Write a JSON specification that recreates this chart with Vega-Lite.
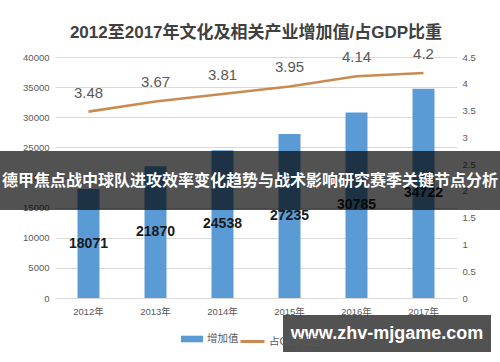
{
  "$schema": "https://vega.github.io/schema/vega-lite/v6.json",
  "width": 402,
  "height": 241,
  "autosize": {"type": "none"},
  "padding": {"left": 55, "top": 57, "right": 43, "bottom": 64},
  "background": "white",
  "config": {
    "font": "Liberation Sans, Noto Sans CJK SC",
    "view": {"stroke": null},
    "axis": {"labelColor": "#595959", "labelFont": "Liberation Sans, Noto Sans CJK SC", "titleFontWeight": "normal"}
  },
  "title": {
    "text": "2012至2017年文化及相关产业增加值/占GDP比重",
    "fontSize": 17,
    "fontWeight": "bold",
    "color": "#404040",
    "anchor": "middle",
    "offset": 5,
    "font": "Liberation Sans, Noto Sans CJK SC"
  },
  "data": {
    "values": [
      {"year": "2012年", "value": 18071, "ratio": 3.48},
      {"year": "2013年", "value": 21870, "ratio": 3.67},
      {"year": "2014年", "value": 24538, "ratio": 3.81},
      {"year": "2015年", "value": 27235, "ratio": 3.95},
      {"year": "2016年", "value": 30785, "ratio": 4.14},
      {"year": "2017年", "value": 34722, "ratio": 4.2}
    ]
  },
  "encoding": {
    "x": {
      "field": "year",
      "type": "nominal",
      "sort": null,
      "scale": {"paddingInner": 0.672, "paddingOuter": 0.336},
      "axis": {"title": null, "labelAngle": 0, "labelFontSize": 9.5, "labelPadding": 8, "ticks": false, "domainColor": "#d9d9d9", "labelColor": "#595959"}
    }
  },
  "layer": [
    {
      "mark": {"type": "bar", "color": "#5B9BD5"},
      "encoding": {
        "y": {
          "field": "value",
          "type": "quantitative",
          "scale": {"domain": [0, 40000]},
          "axis": {"title": null, "orient": "left", "values": [0, 5000, 10000, 15000, 20000, 25000, 30000, 35000, 40000], "format": "d", "labelFontSize": 9.5, "labelPadding": 6, "labelOverlap": false, "ticks": false, "domain": false, "gridColor": "#d9d9d9", "labelColor": "#595959"}
        },
        "fill": {
          "datum": "增加值",
          "type": "nominal",
          "scale": {"range": ["#5B9BD5"]},
          "legend": {"title": null, "orient": "none", "legendX": 126, "legendY": 271, "symbolType": "M-1,-0.3H1V0.3H-1Z", "symbolSize": 484, "symbolStrokeWidth": 0, "labelFontSize": 10.5, "labelColor": "#595959", "labelOffset": 4}
        }
      }
    },
    {
      "encoding": {
        "y": {
          "field": "ratio",
          "type": "quantitative",
          "scale": {"domain": [0, 4.5]},
          "axis": {"title": null, "orient": "right", "values": [0, 0.5, 1, 1.5, 2, 2.5, 3, 3.5, 4, 4.5], "format": "~g", "labelFontSize": 9.5, "labelPadding": 5, "labelOverlap": false, "ticks": false, "domain": false, "grid": false, "labelColor": "#595959"}
        }
      },
      "layer": [
        {
          "mark": {"type": "line", "strokeWidth": 2.6, "color": "#C98B52"},
          "encoding": {
            "stroke": {
              "datum": "占GDP比重",
              "type": "nominal",
              "scale": {"range": ["#C98B52"]},
              "legend": {"title": null, "orient": "none", "legendX": 184, "legendY": 271, "symbolType": "stroke", "symbolSize": 576, "symbolStrokeWidth": 3, "labelFontSize": 10.5, "labelColor": "#595959", "labelOffset": 3}
            }
          }
        },
        {
          "mark": {"type": "text", "fontSize": 15, "color": "#595959", "baseline": "alphabetic", "dy": -14},
          "encoding": {
            "text": {"field": "ratio", "type": "quantitative"}
          }
        }
      ]
    },
    {
      "mark": {"type": "text", "fontSize": 14, "fontWeight": "bold", "color": "#1a1a1a", "baseline": "middle"},
      "encoding": {
        "y": {"field": "value", "type": "quantitative", "scale": {"domain": [0, 80000]}, "axis": null},
        "text": {"field": "value", "type": "quantitative", "format": "d"}
      }
    },
    {
      "data": {"values": [{"label": "德甲焦点战中球队进攻效率变化趋势与战术影响研究赛季关键节点分析"}]},
      "layer": [
        {
          "mark": {"type": "rect", "color": "black", "opacity": 0.68},
          "encoding": {"x": {"value": -55}, "x2": {"value": 445}, "y": {"value": 94}, "y2": {"value": 153}}
        },
        {
          "mark": {"type": "text", "color": "white", "fontSize": 16, "fontWeight": "bold", "baseline": "middle", "align": "center", "font": "Noto Sans CJK SC"},
          "encoding": {"x": {"value": 195}, "y": {"value": 124}, "text": {"field": "label"}}
        }
      ]
    },
    {
      "data": {"values": [{"label": "www.zhv-mjgame.com"}]},
      "layer": [
        {
          "mark": {"type": "rect", "color": "black", "opacity": 0.68},
          "encoding": {"x": {"value": 228}, "x2": {"value": 436}, "y": {"value": 258}, "y2": {"value": 295}}
        },
        {
          "mark": {"type": "text", "color": "white", "fontSize": 18, "fontWeight": "bold", "baseline": "middle", "align": "center", "font": "Liberation Sans"},
          "encoding": {"x": {"value": 332}, "y": {"value": 277}, "text": {"field": "label"}}
        }
      ]
    }
  ],
  "resolve": {"scale": {"y": "independent", "fill": "independent", "stroke": "independent"}}
}
